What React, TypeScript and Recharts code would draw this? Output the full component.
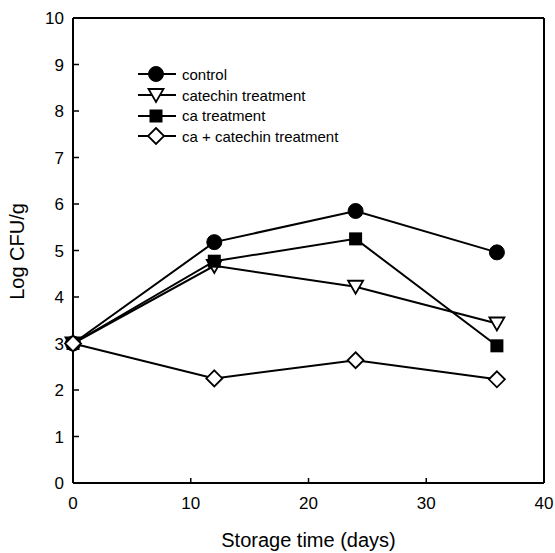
import { LineChart, Line, XAxis, YAxis, ReferenceLine, Legend, Label } from 'recharts'

const days = [0, 12, 24, 36]
const control = [3.0, 5.18, 5.85, 4.96]
const catechin = [3.0, 4.67, 4.22, 3.43]
const caTreat = [3.0, 4.77, 5.25, 2.95]
const caCatechin = [3.0, 2.25, 2.64, 2.23]
const xTicks = [0, 10, 20, 30, 40]
const yTicks = [0, 1, 2, 3, 4, 5, 6, 7, 8, 9, 10]

type Shape = 'circle' | 'triangle' | 'square' | 'diamond'

const SERIES: { key: string; name: string; shape: Shape; values: number[] }[] = [
  { key: 'control', name: 'control', shape: 'circle', values: control },
  { key: 'catechin', name: 'catechin treatment', shape: 'triangle', values: catechin },
  { key: 'ca', name: 'ca treatment', shape: 'square', values: caTreat },
  { key: 'caCat', name: 'ca + catechin treatment', shape: 'diamond', values: caCatechin },
]

const data = days.map((d, i) => {
  const row: Record<string, number> = { day: d }
  SERIES.forEach(s => { row[s.key] = s.values[i] })
  return row
})

const FONT = 'Arial, "Liberation Sans", sans-serif'

function Marker({ shape, cx, cy }: { shape: Shape; cx: number; cy: number }) {
  if (cx == null || cy == null) return null
  if (shape === 'circle') return <circle cx={cx} cy={cy} r={7.5} fill="#000" stroke="#000" />
  if (shape === 'square') return <rect x={cx - 6.5} y={cy - 6.5} width={13} height={13} fill="#000" />
  if (shape === 'triangle')
    return <polygon points={`${cx - 7.5},${cy - 6} ${cx + 7.5},${cy - 6} ${cx},${cy + 7}`} fill="#fff" stroke="#000" strokeWidth={1.8} />
  return <polygon points={`${cx},${cy - 8} ${cx + 8},${cy} ${cx},${cy + 8} ${cx - 8},${cy}`} fill="#fff" stroke="#000" strokeWidth={1.8} />
}

function LegendBox() {
  return (
    <div style={{ position: 'absolute', left: 136, top: 64, fontFamily: FONT, fontSize: 15 }}>
      {SERIES.map(s => (
        <div key={s.key} style={{ display: 'flex', alignItems: 'center', height: 20.7 }}>
          <svg width={42} height={20}>
            <line x1={2} y1={10} x2={40} y2={10} stroke="#000" strokeWidth={2} />
            <Marker shape={s.shape} cx={20} cy={10} />
          </svg>
          <span style={{ marginLeft: 4, color: '#000', whiteSpace: 'nowrap' }}>{s.name}</span>
        </div>
      ))}
    </div>
  )
}

export default function App() {
  return (
    <div style={{ position: 'absolute', left: 0, top: 0, background: '#fff' }}>
      <LineChart width={555} height={553} data={data} margin={{ top: 18, right: 11, left: 0, bottom: 0 }}>
        <XAxis dataKey="day" type="number" domain={[0, 40]} ticks={xTicks} height={70}
          axisLine={{ stroke: '#000', strokeWidth: 2 }} tickLine={{ stroke: '#000', strokeWidth: 1.5 }}
          tickSize={-5} tickMargin={19} tick={{ fill: '#000', fontSize: 17, fontFamily: FONT }}>
          <Label value="Storage time (days)" position="insideBottom" offset={6}
            style={{ fill: '#000', fontSize: 20, fontFamily: FONT }} />
        </XAxis>
        <YAxis type="number" domain={[0, 10]} ticks={yTicks} width={73} interval={0}
          axisLine={{ stroke: '#000', strokeWidth: 2 }} tickLine={{ stroke: '#000', strokeWidth: 1.5 }}
          tickSize={-6} tickMargin={15} tick={{ fill: '#000', fontSize: 17, fontFamily: FONT }}>
          <Label content={(p: any) => {
            const vb = p.viewBox || {}
            const x = 23.5
            const y = (vb.y ?? 18) + (vb.height ?? 465) / 2 + 1
            return (
              <text x={x} y={y} transform={`rotate(-90 ${x} ${y})`} textAnchor="middle"
                style={{ fill: '#000', fontSize: 20, fontFamily: FONT }}>Log CFU/g</text>
            )
          }} />
        </YAxis>
        <ReferenceLine y={10} stroke="#000" strokeWidth={2} />
        <ReferenceLine x={40} stroke="#000" strokeWidth={2} />
        <Legend content={() => <LegendBox />} wrapperStyle={{ left: 0, top: 0, width: 555, height: 0 }} />
        {SERIES.map(s => (
          <Line key={s.key} dataKey={s.key} name={s.name} type="linear" stroke="#000" strokeWidth={2}
            isAnimationActive={false} activeDot={false}
            dot={(p: any) => <Marker key={`${s.key}-${p.index}`} shape={s.shape} cx={p.cx} cy={p.cy} />} />
        ))}
      </LineChart>
    </div>
  )
}
